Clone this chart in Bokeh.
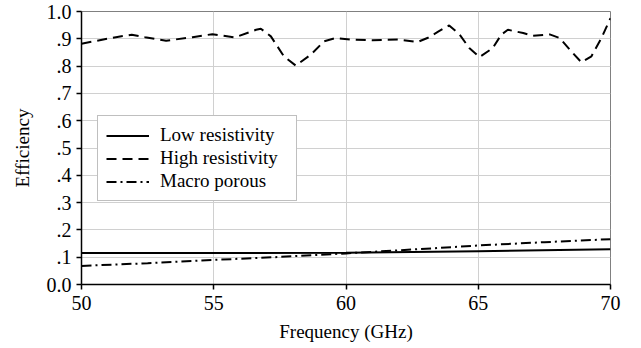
from bokeh.plotting import figure
from bokeh.models import Legend, LegendItem, FixedTicker, Range1d
from bokeh.embed import file_html
from bokeh.resources import INLINE

# Data
freq_low = [50, 55, 60, 65, 70]
eff_low = [0.115, 0.115, 0.116, 0.122, 0.129]

freq_high = [50.0, 51.3, 51.9, 52.4, 53.2, 54.2, 54.95, 55.8, 56.6, 56.78, 57.16,
             57.65, 58.1, 58.67, 59.17, 59.6, 60.2, 61.0, 61.96, 62.7, 63.1,
             63.5, 63.9, 64.3, 64.66, 65.05, 65.55, 65.87, 66.12, 66.7, 67.07,
             67.7, 68.08, 68.46, 68.9, 69.28, 69.66, 70.0]
eff_high = [0.882, 0.906, 0.915, 0.906, 0.893, 0.906, 0.917, 0.905, 0.933, 0.937, 0.909,
            0.836, 0.802, 0.842, 0.891, 0.903, 0.897, 0.895, 0.897, 0.888, 0.904,
            0.927, 0.949, 0.915, 0.866, 0.833, 0.866, 0.915, 0.933, 0.921, 0.911,
            0.916, 0.903, 0.860, 0.814, 0.836, 0.903, 0.976]

freq_macro = [50, 52.5, 55, 57.5, 60, 62.5, 65, 67.5, 70]
eff_macro = [0.068, 0.078, 0.090, 0.101, 0.114, 0.128, 0.143, 0.155, 0.166]

y_ticks = [0.0, 0.1, 0.2, 0.3, 0.4, 0.5, 0.6, 0.7, 0.8, 0.9, 1.0]
y_tick_labels = ["0.0", ".1", ".2", ".3", ".4", ".5", ".6", ".7", ".8", ".9", "1.0"]
x_ticks = [50, 55, 60, 65, 70]

FONT = "Liberation Serif"

p = figure(width=625, height=338, output_backend="svg", toolbar_location=None,
           x_range=Range1d(50, 70), y_range=Range1d(0, 1.0),
           frame_width=529, frame_height=273,
           min_border_left=81, min_border_top=11, min_border_right=15, min_border_bottom=54)

p.outline_line_color = "#808080"
p.outline_line_width = 1

r_low = p.line(freq_low, eff_low, line_color="black", line_width=2)
r_high = p.line(freq_high, eff_high, line_color="black", line_width=2, line_dash="10 6")
r_macro = p.line(freq_macro, eff_macro, line_color="black", line_width=2, line_dash="10 4 2 4")

p.xaxis.ticker = FixedTicker(ticks=x_ticks)
p.yaxis.ticker = FixedTicker(ticks=y_ticks)
p.yaxis.major_label_overrides = {t: l for t, l in zip(y_ticks, y_tick_labels)}

for ax in (p.xaxis[0], p.yaxis[0]):
    ax.axis_line_color = "black"
    ax.axis_line_width = 1.5
    ax.major_tick_line_color = "black"
    ax.major_tick_line_width = 1.5
    ax.major_tick_out = 5
    ax.major_tick_in = 0
    ax.minor_tick_out = 0
    ax.minor_tick_in = 0
    ax.major_label_text_font = FONT
    ax.major_label_text_font_size = "20px"
    ax.major_label_text_color = "black"
    ax.axis_label_text_font = FONT
    ax.axis_label_text_font_size = "19px"
    ax.axis_label_text_font_style = "normal"
    ax.axis_label_text_color = "black"

p.xaxis.axis_label = "Frequency (GHz)"
p.yaxis.axis_label = "Efficiency"
p.xaxis.major_label_standoff = 6
p.yaxis.major_label_standoff = 5
p.xaxis.axis_label_standoff = 8
p.yaxis.axis_label_standoff = 11

p.xgrid.grid_line_color = "#d0d0d0"
p.ygrid.grid_line_color = "#d0d0d0"
p.xgrid.grid_line_width = 1
p.ygrid.grid_line_width = 1

legend = Legend(items=[
    LegendItem(label="Low resistivity", renderers=[r_low]),
    LegendItem(label="High resistivity", renderers=[r_high]),
    LegendItem(label="Macro porous", renderers=[r_macro]),
], location=(16, 83))
legend.label_text_font = FONT
legend.label_text_font_size = "19px"
legend.label_text_color = "black"
legend.border_line_color = "#808080"
legend.border_line_width = 1
legend.background_fill_color = "white"
legend.background_fill_alpha = 1
legend.glyph_width = 43
legend.glyph_height = 21
legend.label_height = 21
legend.label_width = 128
legend.label_standoff = 11
legend.spacing = 1
legend.padding = 8
legend.margin = 0
p.add_layout(legend, "center")

open("out.html", "w").write(file_html(p, INLINE))
